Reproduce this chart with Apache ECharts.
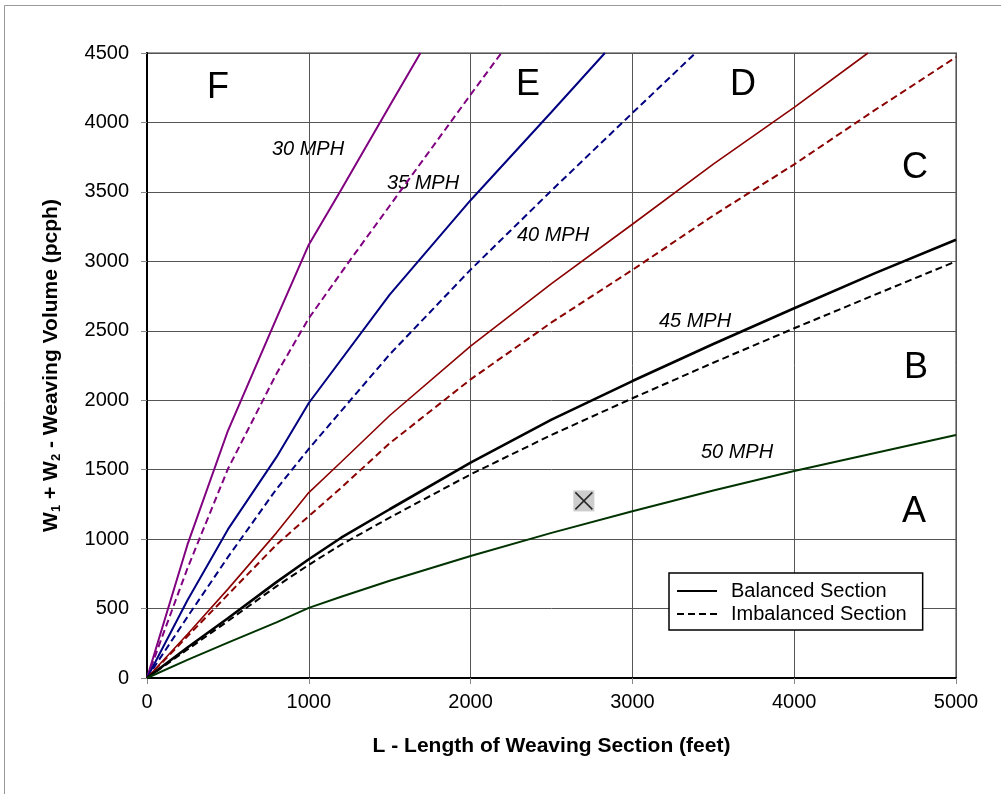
<!DOCTYPE html>
<html>
<head>
<meta charset="utf-8">
<title>Weaving Volume vs Length</title>
<script src="https://cdn.jsdelivr.net/npm/echarts@6/dist/echarts.min.js"></script>
<style>
  html, body { margin: 0; padding: 0; background: #fff; }
  #chart { width: 1001px; height: 794px; }
</style>
</head>
<body>
<div id="chart"></div>
<script>
// L - length of weaving section (feet) / W1+W2 (pcph)
const x30b = [0, 250, 500, 800, 1000, 1200, 1500, 1690]
const y30b = [0, 960, 1780, 2590, 3120, 3515, 4120, 4500]
const x30i = [0, 250, 500, 800, 1000, 1250, 1500, 2000, 2190]
const y30i = [0, 790, 1505, 2190, 2590, 3000, 3400, 4200, 4500]

const x35b = [0, 250, 500, 800, 1000, 1500, 2000, 2500, 2830]
const y35b = [0, 560, 1070, 1590, 1980, 2760, 3440, 4075, 4500]
const x35i = [0, 250, 500, 800, 1000, 1500, 2000, 2500, 3000, 3390]
const y35i = [0, 440, 870, 1360, 1650, 2330, 2940, 3510, 4068, 4500]

const x40b = [0, 250, 500, 800, 1000, 1200, 1500, 2000, 2500, 3000, 3500, 4000, 4456]
const y40b = [0, 315, 640, 1045, 1335, 1555, 1890, 2390, 2840, 3267, 3700, 4109, 4500]
const x40i = [0, 250, 500, 800, 1000, 1200, 1500, 2000, 2500, 3000, 3500, 4000, 4500, 5000]
const y40i = [0, 300, 600, 960, 1165, 1370, 1690, 2150, 2560, 2938, 3330, 3698, 4090, 4470]

const x45 = [0, 250, 500, 800, 1000, 1200, 1500, 2000, 2500, 3000, 3500, 4000, 4500, 5000]
const y45b = [0, 220, 430, 690, 855, 1010, 1215, 1550, 1860, 2138, 2405, 2662, 2915, 3155]
const y45i = [0, 205, 410, 660, 815, 960, 1155, 1466, 1750, 2014, 2270, 2518, 2760, 3000]

const x50 = [0, 250, 500, 800, 1000, 1200, 1500, 2000, 2500, 3000, 3500, 4000, 4500, 5000]
const y50 = [0, 130, 255, 400, 505, 585, 700, 878, 1045, 1200, 1350, 1490, 1620, 1750]

// the grey X box
const markPt = [2700, 1275]

const xTicks = [0, 1000, 2000, 3000, 4000, 5000]
const yTicks = [0, 500, 1000, 1500, 2000, 2500, 3000, 3500, 4000, 4500]

const FONT = "'Liberation Sans', Arial, sans-serif"
const DASH = [7, 4]

function pairs(xs, ys) {
  return xs.map((x, i) => [x, ys[i]])
}

function curve(name, xs, ys, color, width, dashed) {
  return {
    name: name,
    type: 'line',
    data: pairs(xs, ys),
    symbol: 'none',
    smooth: false,
    silent: true,
    z: 3,
    lineStyle: { color: color, width: width, type: dashed ? DASH : 'solid' },
    itemStyle: { color: color }
  }
}

const chart = echarts.init(document.getElementById('chart'))

const op = {
  animation: false,
  textStyle: { fontFamily: FONT },
  grid: {
    left: 147,
    top: 53,
    right: 45,
    bottom: 116,
    show: true,
    borderColor: '#999',
    borderWidth: 2
  },
  legend: {
    left: 669,
    top: 573,
    orient: 'vertical',
    data: [
      { name: 'Balanced Section', itemStyle: { opacity: 0 } },
      { name: 'Imbalanced Section', itemStyle: { opacity: 0 } }
    ],
    backgroundColor: '#fff',
    borderColor: '#000',
    borderWidth: 1.5,
    borderRadius: 0,
    padding: [8, 16, 6, 7],
    itemWidth: 40,
    itemHeight: 14,
    itemGap: 3,
    selectedMode: false,
    textStyle: { fontFamily: FONT, fontSize: 20, color: '#000', lineHeight: 20, padding: [0, 0, 0, 9] }
  },
  xAxis: {
    type: 'value',
    min: 0,
    max: 5000,
    interval: 1000,
    name: 'L - Length of Weaving Section (feet)',
    nameLocation: 'middle',
    nameGap: 58,
    nameTextStyle: { fontFamily: FONT, fontSize: 21, fontWeight: 'bold', color: '#000' },
    axisLine: { onZero: false, lineStyle: { color: '#000', width: 2 } },
    axisTick: { show: true, length: 6, lineStyle: { color: '#888' } },
    axisLabel: {
      fontFamily: FONT, fontSize: 20, color: '#000', margin: 14,
      formatter: v => (xTicks.indexOf(v) >= 0 ? String(v) : '')
    },
    splitLine: { show: true, lineStyle: { color: '#555', width: 1 } }
  },
  yAxis: {
    type: 'value',
    min: 0,
    max: 4500,
    interval: 500,
    name: 'W{s|1} + W{s|2} - Weaving Volume (pcph)',
    nameLocation: 'middle',
    nameGap: 84,
    nameTextStyle: {
      fontFamily: FONT, fontSize: 21, fontWeight: 'bold', color: '#000',
      rich: {
        s: { fontFamily: FONT, fontSize: 13, fontWeight: 'bold', color: '#000', verticalAlign: 'bottom', padding: [10, 0, 0, 0] }
      }
    },
    axisLine: { onZero: false, lineStyle: { color: '#000', width: 2 } },
    axisTick: { show: true, length: 6, lineStyle: { color: '#888' } },
    axisLabel: {
      fontFamily: FONT, fontSize: 20, color: '#000', margin: 18,
      formatter: v => (yTicks.indexOf(v) >= 0 ? String(v) : '')
    },
    splitLine: { show: true, lineStyle: { color: '#555', width: 1 } }
  },
  series: [
    curve('30 MPH balanced', x30b, y30b, '#800080', 2, false),
    curve('30 MPH imbalanced', x30i, y30i, '#800080', 2, true),
    curve('35 MPH balanced', x35b, y35b, '#000080', 2, false),
    curve('35 MPH imbalanced', x35i, y35i, '#000080', 2, true),
    curve('40 MPH balanced', x40b, y40b, '#8b0000', 1.6, false),
    curve('40 MPH imbalanced', x40i, y40i, '#8b0000', 2, true),
    curve('45 MPH balanced', x45, y45b, '#000', 2.6, false),
    curve('45 MPH imbalanced', x45, y45i, '#000', 2, true),
    curve('50 MPH', x50, y50, '#003300', 2, false),
    // legend entries only
    { name: 'Balanced Section', type: 'line', data: [], symbol: 'none', lineStyle: { color: '#000', width: 2.5 }, itemStyle: { color: '#000' } },
    { name: 'Imbalanced Section', type: 'line', data: [], symbol: 'none', lineStyle: { color: '#000', width: 2, type: DASH }, itemStyle: { color: '#000' } },
    {
      name: 'box',
      type: 'scatter',
      data: [markPt],
      symbol: 'rect',
      symbolSize: 21,
      silent: true,
      z: 4,
      itemStyle: { color: '#c0c0c0' }
    },
    {
      name: 'cross',
      type: 'scatter',
      data: [markPt],
      symbol: 'path://M0,0L10,10M10,0L0,10',
      symbolSize: 17,
      silent: true,
      z: 5,
      itemStyle: { color: 'none', borderColor: '#000', borderWidth: 1.6 }
    }
  ],
  graphic: [
    { type: 'rect', silent: true, shape: { x: 4.5, y: 5.5, width: 1200, height: 1200 }, style: { fill: 'none', stroke: '#999', lineWidth: 1 } },
    { type: 'text', x: 218, y: 88, style: { text: 'F', font: '36px ' + FONT, fill: '#000', textAlign: 'center', textVerticalAlign: 'middle' } },
    { type: 'text', x: 528, y: 85, style: { text: 'E', font: '36px ' + FONT, fill: '#000', textAlign: 'center', textVerticalAlign: 'middle' } },
    { type: 'text', x: 743, y: 85, style: { text: 'D', font: '36px ' + FONT, fill: '#000', textAlign: 'center', textVerticalAlign: 'middle' } },
    { type: 'text', x: 915, y: 168, style: { text: 'C', font: '36px ' + FONT, fill: '#000', textAlign: 'center', textVerticalAlign: 'middle' } },
    { type: 'text', x: 916, y: 368, style: { text: 'B', font: '36px ' + FONT, fill: '#000', textAlign: 'center', textVerticalAlign: 'middle' } },
    { type: 'text', x: 914, y: 512, style: { text: 'A', font: '36px ' + FONT, fill: '#000', textAlign: 'center', textVerticalAlign: 'middle' } },
    { type: 'text', x: 308, y: 149, style: { text: '30 MPH', font: 'italic 20px ' + FONT, fill: '#000', textAlign: 'center', textVerticalAlign: 'middle' } },
    { type: 'text', x: 423, y: 183, style: { text: '35 MPH', font: 'italic 20px ' + FONT, fill: '#000', textAlign: 'center', textVerticalAlign: 'middle' } },
    { type: 'text', x: 553, y: 235, style: { text: '40 MPH', font: 'italic 20px ' + FONT, fill: '#000', textAlign: 'center', textVerticalAlign: 'middle' } },
    { type: 'text', x: 695, y: 321, style: { text: '45 MPH', font: 'italic 20px ' + FONT, fill: '#000', textAlign: 'center', textVerticalAlign: 'middle' } },
    { type: 'text', x: 737, y: 452, style: { text: '50 MPH', font: 'italic 20px ' + FONT, fill: '#000', textAlign: 'center', textVerticalAlign: 'middle' } }
  ]
}

chart.setOption(op)
</script>
</body>
</html>
